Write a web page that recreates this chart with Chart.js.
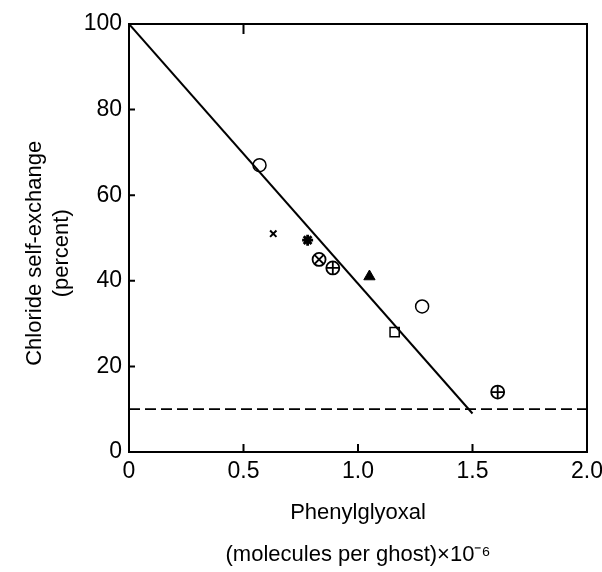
<!DOCTYPE html>
<html lang="en">
  <head>
    <meta charset="UTF-8" />
    <title>Chloride self-exchange vs phenylglyoxal</title>
    <script src="https://cdn.jsdelivr.net/npm/chart.js"></script>
    <style>
      html, body { margin: 0; padding: 0; background: #fff; }
      #wrap { width: 602px; height: 572px; }
    </style>
  </head>
  <body>
    <div id="wrap"><canvas id="chart"></canvas></div>

    <script>
      // Data (x = phenylglyoxal, y = percent)
      const openCircles = [{ x: 0.57, y: 67 }, { x: 1.28, y: 34 }];
      const crosses = [{ x: 0.63, y: 51 }];
      const stars = [{ x: 0.78, y: 49.5 }];
      const circledX = [{ x: 0.83, y: 45 }];
      const circledPlus = [{ x: 0.89, y: 43 }, { x: 1.61, y: 14 }];
      const triangles = [{ x: 1.05, y: 41 }];
      const squares = [{ x: 1.16, y: 28 }];

      // Fitted line and baseline
      const fitLine = [{ x: 0, y: 100 }, { x: 1.5, y: 9 }];
      const baseLine = [{ x: 0, y: 10 }, { x: 2.0, y: 10 }];

      // Tick values
      const xTicks = [0, 0.5, 1.0, 1.5, 2.0];
      const yTicks = [0, 20, 40, 60, 80, 100];
      const xInnerTicks = [0.5, 1.0, 1.5];
      const xTopTicks = [0.5];
      const yInnerTicks = [20, 40, 60, 80];

      Chart.defaults.font.family = "'Liberation Sans', Arial, sans-serif";
      Chart.defaults.color = "#000";

      // Box around the plot plus the small inward tick marks
      const frame = {
        id: "frame",
        afterDraw(chart) {
          const { ctx, chartArea: a, scales } = chart;
          const x = scales.x, y = scales.y;
          ctx.save();
          ctx.strokeStyle = "#000";
          ctx.lineWidth = 2;
          ctx.strokeRect(a.left, a.top, a.right - a.left, a.bottom - a.top);
          ctx.beginPath();
          xInnerTicks.forEach((v) => {
            const px = x.getPixelForValue(v);
            ctx.moveTo(px, a.bottom);
            ctx.lineTo(px, a.bottom - 8);
          });
          xTopTicks.forEach((v) => {
            const px = x.getPixelForValue(v);
            ctx.moveTo(px, a.top);
            ctx.lineTo(px, a.top + 10);
          });
          yInnerTicks.forEach((v) => {
            const py = y.getPixelForValue(v);
            ctx.moveTo(a.left, py);
            ctx.lineTo(a.left + 6, py);
          });
          ctx.stroke();
          ctx.restore();
        },
      };

      const marker = (data, style, radius, fill, width) => ({
        data: data,
        pointStyle: style,
        pointRadius: radius,
        pointHoverRadius: radius,
        pointBorderColor: "#000",
        pointBackgroundColor: fill,
        pointBorderWidth: width,
        showLine: false,
      });

      // note: earlier datasets are drawn on top
      const pad = "\u00a0\u00a0\u00a0\u00a0\u00a0";

      new Chart(document.getElementById("chart"), {
        type: "scatter",
        data: {
          datasets: [
            {
              data: fitLine,
              showLine: true,
              borderColor: "#000",
              borderWidth: 2,
              pointRadius: 0,
            },
            {
              data: baseLine,
              showLine: true,
              borderColor: "#000",
              borderWidth: 1.8,
              borderDash: [11, 5],
              pointRadius: 0,
            },
            marker(circledX, "crossRot", 6.5, "#000", 1.8),
            marker(circledPlus, "cross", 6.5, "#000", 1.8),
            marker(openCircles, "circle", 6.5, "#fff", 1.5),
            marker(crosses, "crossRot", 4.5, "#000", 2),
            marker(stars, "star", 5.5, "#000", 2.8),
            marker(circledX, "circle", 6.5, "#fff", 1.8),
            marker(circledPlus, "circle", 6.5, "#fff", 1.8),
            marker(triangles, "triangle", 6.5, "#000", 1),
            marker(squares, "rect", 6.5, "#fff", 1.5),
          ],
        },
        options: {
          responsive: true,
          maintainAspectRatio: false,
          animation: false,
          layout: { padding: { top: 24, right: 15, bottom: 0, left: 0 } },
          plugins: {
            legend: { display: false },
            tooltip: { enabled: false },
          },
          scales: {
            x: {
              type: "linear",
              min: 0,
              max: 2,
              afterFit: (s) => {
                s.height = 120;
                s.paddingRight = 8; // let "2.0" hang over the edge like the original
              },
              afterBuildTicks: (s) => { s.ticks = xTicks.map((v) => ({ value: v })); },
              grid: { display: false, drawTicks: false },
              border: { display: false },
              ticks: {
                padding: 6,
                font: { size: 23 },
                callback: (v) => (v === 0 ? "0" : v.toFixed(1)),
              },
              title: {
                display: true,
                text: ["Phenylglyoxal", "(molecules per ghost)\u00d710\u207b\u2076"],
                font: { size: 22, lineHeight: "42px" },
                padding: { top: 0, bottom: -4 },
              },
            },
            y: {
              type: "linear",
              min: 0,
              max: 100,
              afterFit: (s) => { s.width = 129; },
              afterBuildTicks: (s) => { s.ticks = yTicks.map((v) => ({ value: v })); },
              grid: { display: false, drawTicks: false },
              border: { display: false },
              ticks: { padding: 7, font: { size: 23 } },
              title: {
                display: true,
                text: ["Chloride self-exchange" + pad, "(percent)" + pad],
                font: { size: 22, lineHeight: 1.2 },
                padding: { top: 22, bottom: 0 },
              },
            },
          },
        },
        plugins: [frame],
      });
    </script>
  </body>
</html>
